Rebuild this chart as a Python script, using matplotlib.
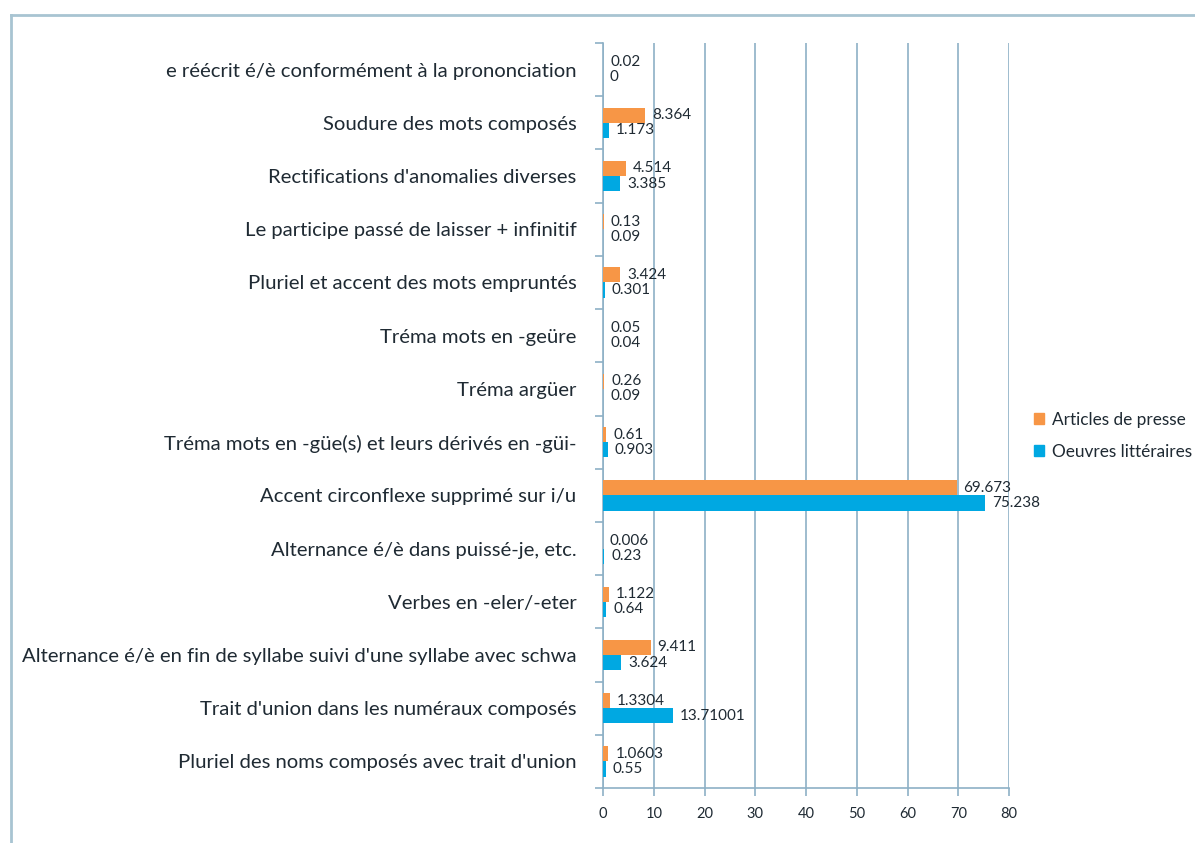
import matplotlib
matplotlib.use("Agg")
import matplotlib.pyplot as plt
from matplotlib.lines import Line2D
from matplotlib.patches import Patch
import numpy as np

plt.rcParams['font.family'] = ['Lato', 'DejaVu Sans']

# Données (de haut en bas)
categories = [
    "e réécrit é/è conformément à la prononciation",
    "Soudure des mots composés",
    "Rectifications d'anomalies diverses",
    "Le participe passé de laisser + infinitif",
    "Pluriel et accent des mots empruntés",
    "Tréma mots en -geüre",
    "Tréma argüer",
    "Tréma mots en -güe(s) et leurs dérivés en -güi-",
    "Accent circonflexe supprimé sur i/u",
    "Alternance é/è dans puissé-je, etc.",
    "Verbes en -eler/-eter",
    "Alternance é/è en fin de syllabe suivi d'une syllabe avec schwa",
    "Trait d'union dans les numéraux composés",
    "Pluriel des noms composés avec trait d'union",
]
presse = [0.02, 8.364, 4.514, 0.13, 3.424, 0.05, 0.26, 0.61, 69.673, 0.006, 1.122, 9.411, 1.3304, 1.0603]
oeuvres = [0, 1.173, 3.385, 0.09, 0.301, 0.04, 0.09, 0.903, 75.238, 0.23, 0.64, 3.624, 13.71001, 0.55]
presse_txt = ["0.02", "8.364", "4.514", "0.13", "3.424", "0.05", "0.26", "0.61", "69.673", "0.006", "1.122", "9.411", "1.3304", "1.0603"]
oeuvres_txt = ["0", "1.173", "3.385", "0.09", "0.301", "0.04", "0.09", "0.903", "75.238", "0.23", "0.64", "3.624", "13.71001", "0.55"]

orange = '#F79646'
bleu = '#00A8E2'
grille = '#8DB0C6'
texte = '#1F2A33'

fig = plt.figure(figsize=(11.95, 8.43), dpi=100)
ax = fig.add_axes([0.5046, 0.0652, 0.3398, 0.8838])

y = np.arange(len(categories))
h = 0.285
ax.barh(y - h / 2, presse, height=h, color=orange, zorder=3)
ax.barh(y + h / 2, oeuvres, height=h, color=bleu, zorder=3)

for i in range(len(categories)):
    ax.annotate(presse_txt[i], (presse[i], y[i] - h / 2), xytext=(5, 0),
                textcoords='offset points', va='center', ha='left',
                fontsize=11, color=texte)
    ax.annotate(oeuvres_txt[i], (oeuvres[i], y[i] + h / 2), xytext=(5, 0),
                textcoords='offset points', va='center', ha='left',
                fontsize=11, color=texte)

ax.set_xlim(0, 80)
ax.set_ylim(len(categories) - 0.5, -0.5)
ax.set_xticks(np.arange(0, 81, 10))
ax.set_yticks(y)
ax.set_yticklabels(categories, fontsize=14.6, color=texte)
ax.set_yticks(np.arange(-0.5, len(categories), 1), minor=True)
ax.tick_params(axis='y', which='major', length=0, pad=19)
ax.tick_params(axis='y', which='minor', length=6, width=1.2, color=grille)
ax.tick_params(axis='x', length=6, width=1.2, color=grille, labelsize=10.5,
               labelcolor=texte, pad=8)
ax.grid(axis='x', color=grille, linewidth=1.2, zorder=0)
for s in ['top', 'right']:
    ax.spines[s].set_visible(False)
for s in ['left', 'bottom']:
    ax.spines[s].set_color(grille)
    ax.spines[s].set_linewidth(1.2)

handles = [Patch(color=orange), Patch(color=bleu)]
fig.legend(handles, ["Articles de presse", "Oeuvres littéraires"],
           loc='center left', bbox_to_anchor=(0.865, 0.483), frameon=False,
           fontsize=12.4, handlelength=0.6, handleheight=0.6, handletextpad=0.45,
           labelspacing=0.95, borderaxespad=0, borderpad=0, labelcolor=texte)

# cadre
fig.add_artist(Line2D([11 / 1195, 1], [1 - 15 / 843, 1 - 15 / 843], color='#A8C4D2', lw=2))
fig.add_artist(Line2D([11 / 1195, 11 / 1195], [0, 1 - 15 / 843], color='#A8C4D2', lw=2))

fig.savefig("out.png", dpi=100)
